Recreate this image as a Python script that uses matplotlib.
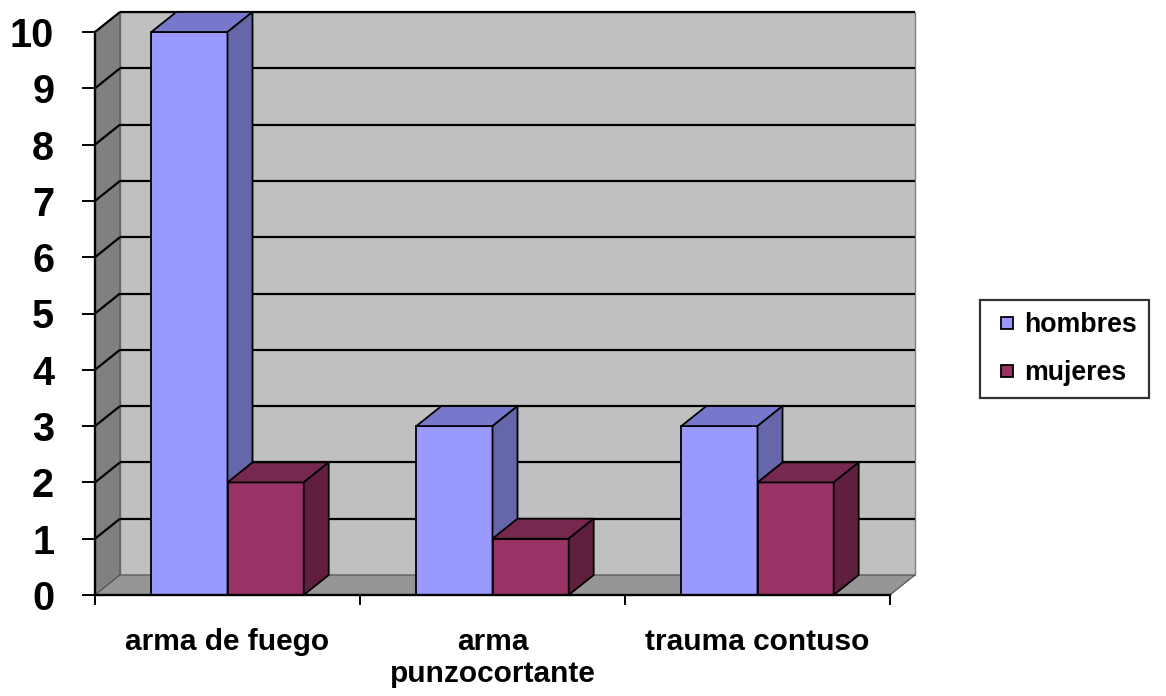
import matplotlib
matplotlib.use("Agg")
import matplotlib.pyplot as plt
from matplotlib.patches import Polygon
from matplotlib.lines import Line2D
from matplotlib.ticker import FixedLocator, NullFormatter, FixedFormatter

# ---- data ----
categories = ["arma de fuego", "arma\npunzocortante", "trauma contuso"]
series_names = ["hombres", "mujeres"]
hombres = [10, 3, 3]
mujeres = [2, 1, 2]
y_ticks = list(range(0, 11))

# ---- style ----
FRONT = ["#9999FF", "#993366"]
TOP = ["#7777CC", "#77284F"]
SIDE = ["#6666AA", "#611F40"]
BACK_WALL = "#C0C0C0"
SIDE_WALL = "#808080"
FLOOR = "#969696"
LW = 1.3

plt.rcParams["font.family"] = ["Liberation Sans", "DejaVu Sans"]
plt.rcParams["font.weight"] = "bold"

W, H = 1166, 696
fig = plt.figure(figsize=(W / 100, H / 100), dpi=100)
ax = fig.add_axes([95 / W, (H - 595) / H, 795 / W, 563 / H])
ax.set_xlim(0, 3)
ax.set_ylim(0, 10)
ax.patch.set_alpha(0)

# depth offsets in data units
DX = 25 / 265
DY = 20 / 56.3
YMAX = 10
NC = len(categories)

def poly(pts, fc, z, ec="black", lw=LW):
    p = Polygon(pts, closed=True, facecolor=fc, edgecolor=ec, linewidth=lw,
                zorder=z, clip_on=False, joinstyle="miter")
    ax.add_patch(p)

# walls
poly([(DX, DY), (NC + DX, DY), (NC + DX, YMAX + DY), (DX, YMAX + DY)], BACK_WALL, 1, ec="#808080", lw=1.0)
poly([(0, 0), (DX, DY), (DX, YMAX + DY), (0, YMAX)], SIDE_WALL, 1, ec="#505050", lw=0.8)
poly([(0, 0), (NC, 0), (NC + DX, DY), (DX, DY)], FLOOR, 1, ec="#505050", lw=0.8)

# gridlines
for v in y_ticks[1:]:
    ax.plot([DX, NC + DX], [v + DY, v + DY], color="black", lw=1.6, zorder=2, clip_on=False,
            solid_capstyle="butt")
    ax.plot([0, DX], [v, v + DY], color="black", lw=1.6, zorder=2, clip_on=False,
            solid_capstyle="butt")

# bars
w = 0.2875
z = 3
for i in range(NC):
    start = i + (1 - 2 * w) / 2
    for j, vals in enumerate([hombres, mujeres]):
        v = vals[i]
        x0 = start + j * w
        x1 = x0 + w
        ax.bar(x0, v, width=w, align="edge", color=FRONT[j], edgecolor="black",
               linewidth=LW, zorder=z, clip_on=False)
        poly([(x0, v), (x1, v), (x1 + DX, v + DY), (x0 + DX, v + DY)], TOP[j], z)
        poly([(x1, 0), (x1 + DX, DY), (x1 + DX, v + DY), (x1, v)], SIDE[j], z)
        z += 1

# spines
for s in ["top", "right"]:
    ax.spines[s].set_visible(False)
for s in ["left", "bottom"]:
    ax.spines[s].set_linewidth(1.7)
    ax.spines[s].set_zorder(50)

# ticks
ax.set_yticks(y_ticks)
ax.set_yticklabels([str(t) for t in y_ticks])
ax.tick_params(axis="y", direction="out", length=9.4, width=1.4, pad=20,
               labelsize=28.5)
ax.xaxis.set_major_locator(FixedLocator([0, 1, 2, 3]))
ax.xaxis.set_major_formatter(NullFormatter())
ax.xaxis.set_minor_locator(FixedLocator([0.5 + i for i in range(NC)]))
ax.xaxis.set_minor_formatter(FixedFormatter(categories))
ax.tick_params(axis="x", which="major", direction="out", length=7.2, width=1.4)
ax.tick_params(axis="x", which="minor", length=0, pad=24, labelsize=21.5)
for lab in ax.get_xticklabels(minor=True):
    lab.set_linespacing(1.15)
for lab in ax.get_yticklabels() + ax.get_xticklabels(minor=True):
    lab.set_fontweight("bold")

# legend
handles = [Line2D([], [], linestyle="none", marker="s", markersize=9,
                  markerfacecolor=FRONT[k], markeredgecolor="black", markeredgewidth=1.3)
           for k in range(2)]
leg = fig.legend(handles, series_names, loc="center left",
                 bbox_to_anchor=(980 / W, 1 - 349 / H),
                 frameon=True, fancybox=False, edgecolor="black",
                 prop={"size": 19.3, "weight": "bold"},
                 handlelength=1.15, handleheight=0.6, handletextpad=0.05,
                 labelspacing=0.85, borderpad=0.45, borderaxespad=0)
leg.get_frame().set_linewidth(1.6)

fig.savefig("out.png", dpi=100)
